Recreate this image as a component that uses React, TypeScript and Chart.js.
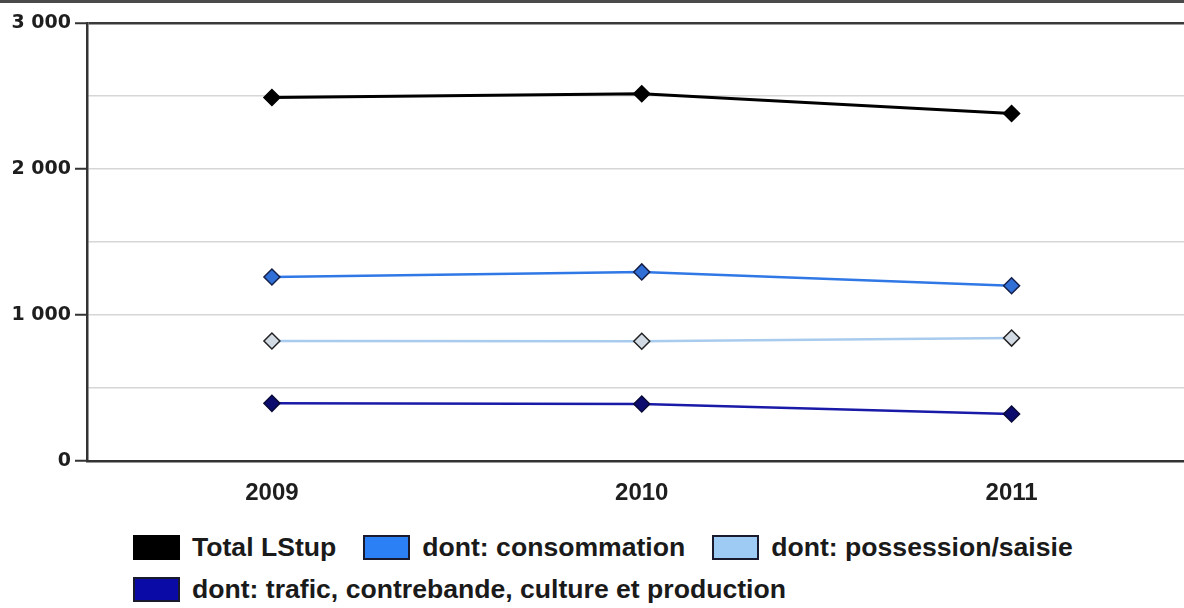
import React, { useEffect, useRef } from "react";
import { Chart, registerables } from "chart.js";

Chart.register(...registerables);

const YEARS: string[] = ["2009", "2010", "2011"];
const SERIES_NAMES: string[] = [
  "Total LStup",
  "dont: consommation",
  "dont: possession/saisie",
  "dont: trafic, contrebande, culture et production",
];
const TOTAL: number[] = [2490, 2515, 2380];
const CONSOMMATION: number[] = [1260, 1295, 1200];
const POSSESSION: number[] = [822, 820, 842];
const TRAFIC: number[] = [395, 390, 322];
const Y_MIN = 0;
const Y_MAX = 3000;
const Y_STEP = 500;
const Y_LABEL_STEP = 1000;

const LINE_COLORS = ["#000000", "#2f78e6", "#a9cbee", "#1a1aa8"];
const POINT_FILLS = ["#000000", "#2f6fd6", "#d2dbe4", "#0c0c6e"];
const POINT_BORDERS = ["#000000", "#15204a", "#222222", "#0a0a3a"];
const LEGEND_FILLS = ["#000000", "#2b80f6", "#9ecbf3", "#0a0aa6"];
const LINE_WIDTHS = [3, 2.5, 2.5, 2.5];

const VALUES: number[][] = [TOTAL, CONSOMMATION, POSSESSION, TRAFIC];

function fmt(v: number): string {
  return String(v).replace(/\B(?=(\d{3})+(?!\d))/g, " ");
}

export default function App() {
  const ref = useRef<HTMLCanvasElement | null>(null);

  useEffect(() => {
    if (!ref.current) return;
    const chart = new Chart(ref.current, {
      type: "line",
      data: {
        labels: YEARS,
        datasets: SERIES_NAMES.map((name, i) => ({
          label: name,
          data: VALUES[i],
          borderColor: LINE_COLORS[i],
          backgroundColor: LINE_COLORS[i],
          borderWidth: LINE_WIDTHS[i],
          tension: 0,
          pointStyle: "rectRot",
          pointRadius: 8,
          pointBorderWidth: 1.5,
          pointBackgroundColor: POINT_FILLS[i],
          pointBorderColor: POINT_BORDERS[i],
        })),
      },
      options: {
        animation: false,
        responsive: false,
        maintainAspectRatio: false,
        layout: { padding: { top: 23, right: 3, left: 0, bottom: 0 } },
        plugins: {
          legend: { display: false },
          tooltip: { enabled: false },
        },
        scales: {
          x: {
            type: "category",
            offset: true,
            grid: { display: false, drawTicks: false },
            border: { display: true, color: "#333333", width: 2.5 },
            ticks: {
              color: "#1e1e1e",
              padding: 18,
              font: { family: "'Liberation Sans', Arial, sans-serif", size: 24, weight: "bold" },
            },
            afterFit: (s: any) => {
              s.height = 59;
            },
          },
          y: {
            min: Y_MIN,
            max: Y_MAX,
            ticks: {
              stepSize: Y_STEP,
              padding: 4,
              color: "#1e1e1e",
              font: { family: "'DejaVu Sans', sans-serif", size: 19, weight: "bold" },
              callback: (v: any) => (Number(v) % Y_LABEL_STEP === 0 ? fmt(Number(v)) : ""),
            },
            grid: {
              color: (c: any) => (c.tick && c.tick.value === Y_MAX ? "#3a3a3a" : "#d6d6d6"),
              lineWidth: (c: any) => (c.tick && c.tick.value === Y_MAX ? 2.5 : 1.5),
              tickColor: (c: any) =>
                c.tick && c.tick.value % Y_LABEL_STEP === 0 ? "#333333" : "rgba(0,0,0,0)",
              tickLength: 12,
              tickWidth: 2,
            },
            border: { display: true, color: "#333333", width: 2.5 },
            afterFit: (s: any) => {
              s.width = 87;
            },
          },
        },
      },
    });
    return () => chart.destroy();
  }, []);

  return (
    <div
      style={{
        position: "fixed",
        left: 0,
        top: 0,
        width: 1184,
        height: 608,
        overflow: "hidden",
        background: "#ffffff",
      }}
    >
      <div
        style={{ position: "absolute", left: 0, top: 0, width: 1184, height: 3, background: "#4a4a4a" }}
      />
      <canvas
        ref={ref}
        width={1206}
        height={520}
        style={{ position: "absolute", left: 0, top: 0, width: 1206, height: 520, display: "block" }}
      />
      <div
        style={{
          position: "absolute",
          left: 133,
          top: 532,
          width: 990,
          display: "flex",
          flexWrap: "wrap",
          columnGap: 27,
          rowGap: 12,
          fontFamily: "'Liberation Sans', Arial, sans-serif",
          fontWeight: "bold",
          fontSize: 26.6,
          lineHeight: "30px",
          color: "#1a1a1a",
        }}
      >
        {SERIES_NAMES.map((name, i) => (
          <div key={name} style={{ display: "flex", alignItems: "center", height: 30, whiteSpace: "nowrap" }}>
            <span
              style={{
                display: "inline-block",
                boxSizing: "border-box",
                width: 47,
                height: 25,
                background: LEGEND_FILLS[i],
                border: "2px solid " + (i === 0 ? "#000000" : "#1a1a2e"),
                marginRight: 12,
              }}
            />
            <span>{name}</span>
          </div>
        ))}
      </div>
    </div>
  );
}
